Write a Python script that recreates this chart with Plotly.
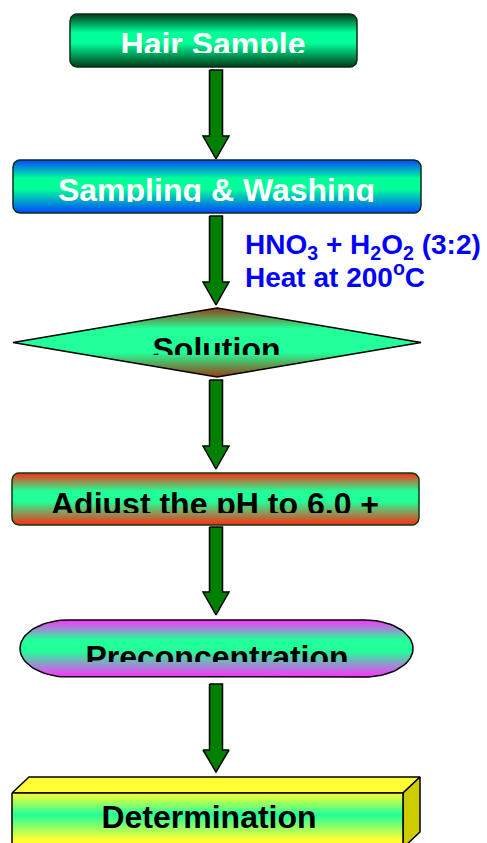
import math
import plotly.graph_objects as go

W, H = 487, 843

# flowchart content
step_labels = ["Hair Sample", "Sampling & Washing", "Solution",
               "Adjust the pH to 6.0 +", "Preconcentration", "Determination"]
step_kinds = ["rounded", "rounded", "diamond", "rounded", "terminator", "box3d"]
reagent_lines = ["HNO<sub>3</sub> + H<sub>2</sub>O<sub>2</sub> (3:2)",
                 "Heat at 200<sup>o</sup>C"]

# layout in image pixels (y grows downward)
box_x = [(70, 357), (13, 421), (13, 421), (12, 419), (20, 413), (12, 403)]
box_y = [(14, 67), (160, 213), (308, 377), (473, 525), (620, 677), (793, 848)]
label_pos = [(213, 47), (216.5, 193), (216.5, 352), (215, 507), (217, 660), (209, 820)]
clip_y = [53, 202, 355, 513, 662, None]
arrow_y = [(70, 136, 159), (216, 282, 305), (380, 446, 469), (527, 592, 615), (684, 750, 772)]
arrow_x = 216
reagent_pos = [(245, 247), (245, 280)]

# styles
label_colors = ["white", "white", "black", "black", "black", "black"]
edge_colors = ["#0b2e12", "#0b2e12", "black", "#0b3a12", "black", "black"]
GREEN = "#22ff99"
fill_scales = [
    [[0, "#003a18"], [0.35, "#00ff99"], [0.55, "#00ff99"], [1, "#003a18"]],
    [[0, "#0046ff"], [0.35, "#00ff99"], [0.55, "#00ff99"], [1, "#0046ff"]],
    [[0, "#9a3c12"], [0.3, GREEN], [0.65, GREEN], [1, "#9a3c12"]],
    [[0, "#ff2a10"], [0.35, GREEN], [0.55, GREEN], [1, "#ff2a10"]],
    [[0, "#ff30ff"], [0.35, GREEN], [0.55, GREEN], [1, "#ff30ff"]],
    [[0, "#ffff33"], [0.4, GREEN], [0.85, "#ffff33"], [1, "#ffff33"]],
]
FONT = "Liberation Sans, Arial, sans-serif"


def Y(y):
    return H - y


def rounded_rect(x0, x1, y0, y1, rx, ry, n=12):
    pts = []
    corners = [(x0 + rx, y0 + ry, 180), (x1 - rx, y0 + ry, 270),
               (x1 - rx, y1 - ry, 0), (x0 + rx, y1 - ry, 90)]
    for cx, cy, a0 in corners:
        for i in range(n + 1):
            t = math.radians(a0 + 90 * i / n)
            pts.append((cx + rx * math.cos(t), cy + ry * math.sin(t)))
    return pts


def diamond(x0, x1, y0, y1):
    xm, ym = (x0 + x1) / 2, (y0 + y1) / 2
    return [(x0, ym), (xm, y0), (x1, ym), (xm, y1)]


def clip_below(pts, yc):
    # keep the part of the polygon with y >= yc
    out = []
    for i in range(len(pts)):
        a, b = pts[i - 1], pts[i]
        ina, inb = a[1] >= yc, b[1] >= yc
        if ina != inb:
            t = (yc - a[1]) / (b[1] - a[1])
            out.append((a[0] + t * (b[0] - a[0]), yc))
        if inb:
            out.append(b)
    return out


def flip_scale(cs):
    # colorscale given top->bottom, gradient runs bottom->top in data space
    return [[round(1 - p, 4), c] for p, c in reversed(cs)]


def poly(pts, fill=None, scale=None, span=None, edge=None, width=1.5):
    xs = [p[0] for p in pts] + [pts[0][0]]
    ys = [Y(p[1]) for p in pts] + [Y(pts[0][1])]
    kw = dict(x=xs, y=ys, mode="lines", hoverinfo="skip", showlegend=False)
    if edge:
        kw["line"] = dict(color=edge, width=width)
    else:
        kw["line"] = dict(color="rgba(0,0,0,0)", width=0)
    if fill or scale:
        kw["fill"] = "toself"
        kw["fillcolor"] = fill or scale[len(scale) // 2][1]
    if scale:
        kw["fillgradient"] = dict(type="vertical", colorscale=flip_scale(scale),
                                  start=Y(span[1]), stop=Y(span[0]))
    return go.Scatter(**kw)


def label(x, y, text, color, size=32, pos="middle center"):
    return go.Scatter(x=[x], y=[Y(y)], mode="text", text=[text], textposition=pos,
                      textfont=dict(family=FONT, size=size, color=color, weight="bold"),
                      hoverinfo="skip", showlegend=False)


fig = go.Figure()

for i, kind in enumerate(step_kinds):
    x0, x1 = box_x[i]
    y0, y1 = box_y[i]
    if kind == "rounded":
        shape = rounded_rect(x0, x1, y0, y1, 7, 7)
    elif kind == "diamond":
        shape = diamond(x0, x1, y0, y1)
    elif kind == "terminator":
        shape = rounded_rect(x0, x1, y0, y1, 48, (y1 - y0) / 2, n=20)
    else:
        dx, dy = 17, 16
        top = [(x0, y0), (x0 + dx, y0 - dy), (x1 + dx, y0 - dy), (x1, y0)]
        side = [(x1, y0), (x1 + dx, y0 - dy), (x1 + dx, y1 - dy), (x1, y1)]
        fig.add_trace(poly(top, fill="#ffff33", edge="black"))
        fig.add_trace(poly(side, fill="#cccc00", edge="black"))
        shape = [(x0, y0), (x1, y0), (x1, y1), (x0, y1)]

    fig.add_trace(poly(shape, scale=fill_scales[i], span=(y0, y1)))
    lx, ly = label_pos[i]
    fig.add_trace(label(lx, ly, step_labels[i], label_colors[i]))
    if clip_y[i] is not None:
        # text overflows the shape in the original: hide its lower part
        cover = clip_below(shape, clip_y[i])
        fig.add_trace(poly(cover, scale=fill_scales[i], span=(y0, y1)))
    fig.add_trace(poly(shape, edge=edge_colors[i]))

# connecting arrows
for top, neck, tip in arrow_y:
    sw, hw = 6.5, 13
    pts = [(arrow_x - sw, top), (arrow_x + sw, top), (arrow_x + sw, neck),
           (arrow_x + hw, neck), (arrow_x, tip), (arrow_x - hw, neck),
           (arrow_x - sw, neck)]
    fig.add_trace(poly(pts, fill="#008000", edge="black", width=1.5))

for (rx_, ry_), txt in zip(reagent_pos, reagent_lines):
    fig.add_trace(label(rx_, ry_, txt, "#0000ff", size=28, pos="middle right"))

fig.update_layout(
    width=W, height=H,
    margin=dict(l=0, r=0, t=0, b=0),
    paper_bgcolor="white", plot_bgcolor="white",
    showlegend=False,
    xaxis=dict(range=[0, W], visible=False, fixedrange=True),
    yaxis=dict(range=[0, H], visible=False, fixedrange=True),
)

fig.write_html("out.html", config={"displayModeBar": False},
               post_script="document.body.style.margin='0px';")
